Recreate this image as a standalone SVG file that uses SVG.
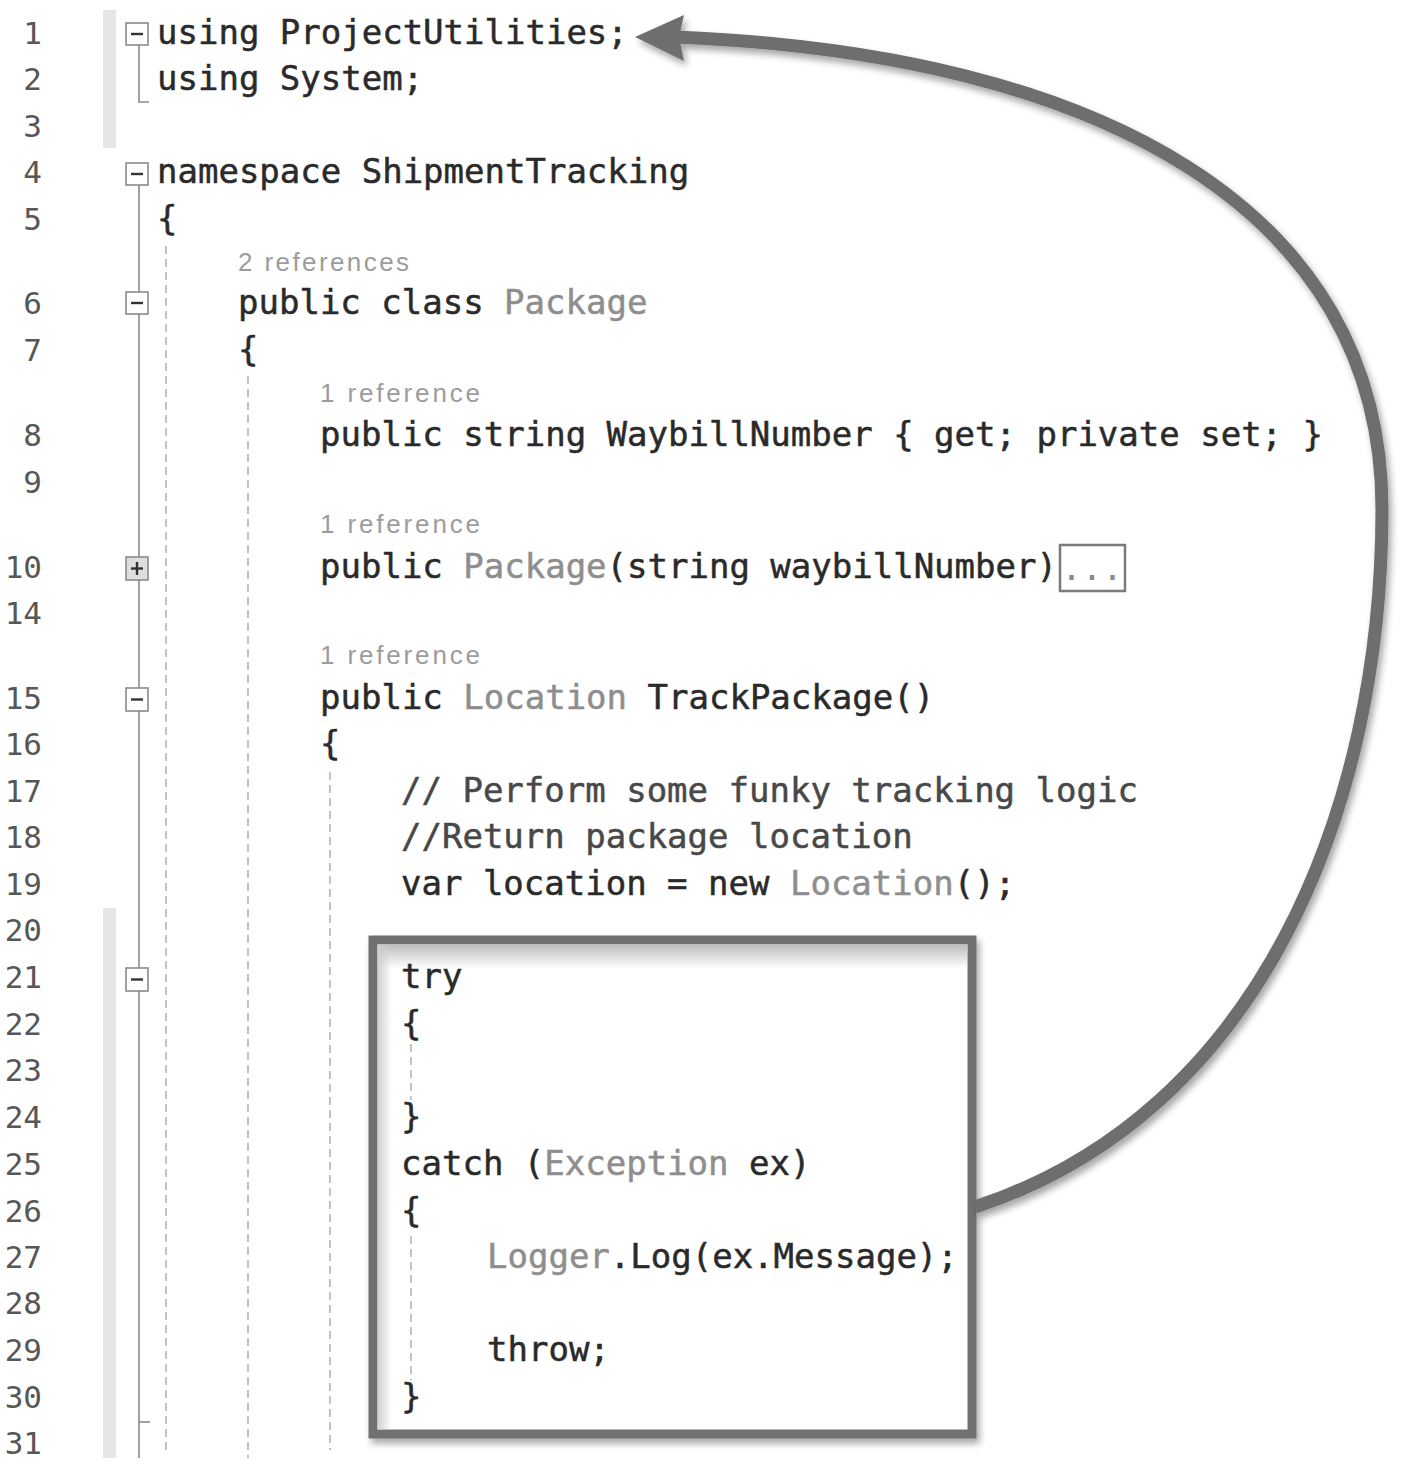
<svg xmlns="http://www.w3.org/2000/svg" width="1418" height="1468" viewBox="0 0 1418 1468">
<style>
.code{font-family:"DejaVu Sans Mono","Liberation Mono",monospace;font-size:34px;fill:#2a2a2a;stroke:#2a2a2a;stroke-width:0.5}
.num{font-family:"DejaVu Sans Mono","Liberation Mono",monospace;font-size:31px;fill:#575757;text-anchor:end}
.lens{font-family:"Liberation Sans","DejaVu Sans",sans-serif;font-size:26px;fill:#9c9c9c}
.type{fill:#8e8e8e;stroke:#8e8e8e}
.cmt{fill:#484848;stroke:#484848}
.guide{stroke:#b4b4b4;stroke-width:1.6;stroke-dasharray:8 5;fill:none}
.outl{stroke:#8a8a8a;stroke-width:1.6;fill:none}
.obox{fill:#fff;stroke:#8a8a8a;stroke-width:1.6}
.sign{stroke:#333;stroke-width:2.4}
</style>
<defs>
<filter id="sh" x="-10%" y="-10%" width="130%" height="130%">
<feDropShadow dx="3" dy="5" stdDeviation="3.5" flood-color="#000" flood-opacity="0.35"/>
</filter>
<linearGradient id="gTop" x1="0" y1="0" x2="0" y2="1">
<stop offset="0" stop-color="#bdbdbd"/>
<stop offset="1" stop-color="#bdbdbd" stop-opacity="0"/>
</linearGradient>
<linearGradient id="gLeft" x1="0" y1="0" x2="1" y2="0">
<stop offset="0" stop-color="#cfcfcf"/>
<stop offset="1" stop-color="#cfcfcf" stop-opacity="0"/>
</linearGradient>
</defs>
<rect width="1418" height="1468" fill="#fff"/>

<g id="margin">
<rect x="103" y="10" width="13" height="138" fill="#e6e6e6"/>
<rect x="103" y="908" width="13" height="550" fill="#e6e6e6"/>
</g>

<g id="line-numbers">
<text class="num" x="42" y="44">1</text>
<text class="num" x="42" y="90">2</text>
<text class="num" x="42" y="137">3</text>
<text class="num" x="42" y="183">4</text>
<text class="num" x="42" y="230">5</text>
<text class="num" x="42" y="314">6</text>
<text class="num" x="42" y="361">7</text>
<text class="num" x="42" y="446">8</text>
<text class="num" x="42" y="493">9</text>
<text class="num" x="42" y="578">10</text>
<text class="num" x="42" y="624">14</text>
<text class="num" x="42" y="709">15</text>
<text class="num" x="42" y="755">16</text>
<text class="num" x="42" y="802">17</text>
<text class="num" x="42" y="848">18</text>
<text class="num" x="42" y="895">19</text>
<text class="num" x="42" y="941">20</text>
<text class="num" x="42" y="988">21</text>
<text class="num" x="42" y="1035">22</text>
<text class="num" x="42" y="1081">23</text>
<text class="num" x="42" y="1128">24</text>
<text class="num" x="42" y="1175">25</text>
<text class="num" x="42" y="1222">26</text>
<text class="num" x="42" y="1268">27</text>
<text class="num" x="42" y="1314">28</text>
<text class="num" x="42" y="1361">29</text>
<text class="num" x="42" y="1408">30</text>
<text class="num" x="42" y="1454">31</text>
</g>

<g id="outlining">
<polyline class="outl" points="139,45 139,102 149,102"/>
<line class="outl" x1="139" y1="185" x2="139" y2="1458"/>
<line class="outl" x1="139" y1="1422" x2="150" y2="1422"/>
<rect class="obox" x="126" y="23" width="22" height="22"/>
<line class="sign" x1="131" y1="34" x2="143" y2="34"/>
<rect class="obox" x="126" y="163" width="22" height="22"/>
<line class="sign" x1="131" y1="174" x2="143" y2="174"/>
<rect class="obox" x="126" y="292" width="22" height="22"/>
<line class="sign" x1="131" y1="303" x2="143" y2="303"/>
<rect x="126" y="557" width="22" height="23" fill="#dedede" stroke="#8a8a8a" stroke-width="1.6"/>
<line class="sign" x1="131" y1="568.5" x2="143" y2="568.5"/>
<line class="sign" x1="137" y1="562" x2="137" y2="575"/>
<rect class="obox" x="126" y="688" width="22" height="23"/>
<line class="sign" x1="131" y1="699.5" x2="143" y2="699.5"/>
<rect class="obox" x="126" y="968" width="22" height="23"/>
<line class="sign" x1="131" y1="979.5" x2="143" y2="979.5"/>
</g>

<g id="indent-guides">
<line class="guide" x1="166" y1="246" x2="166" y2="1450"/>
<line class="guide" x1="248" y1="376" x2="248" y2="1458"/>
<line class="guide" x1="330" y1="772" x2="330" y2="1450"/>
</g>

<g id="highlight-box">
<rect x="373" y="940" width="599" height="494" fill="#fff" stroke="#6f6f6f" stroke-width="9" filter="url(#sh)"/>
<rect x="377.5" y="944.5" width="590" height="24" fill="url(#gTop)"/>
<rect x="377.5" y="944.5" width="14" height="485" fill="url(#gLeft)"/>
<line class="guide" x1="411" y1="1044" x2="411" y2="1100"/>
<line class="guide" x1="411" y1="1236" x2="411" y2="1380"/>
</g>

<g id="code">
<text class="code" x="157" y="44">using ProjectUtilities;</text>
<text class="code" x="157" y="90">using System;</text>
<text class="code" x="157" y="183">namespace ShipmentTracking</text>
<text class="code" x="157" y="230">{</text>
<text class="lens" x="238" y="271" textLength="171" lengthAdjust="spacing">2 references</text>
<text class="code" x="238" y="314">public class <tspan class="type">Package</tspan></text>
<text class="code" x="238" y="361">{</text>
<text class="lens" x="320" y="402" textLength="160" lengthAdjust="spacing">1 reference</text>
<text class="code" x="320" y="446">public string WaybillNumber { get; private set; }</text>
<text class="lens" x="320" y="533" textLength="160" lengthAdjust="spacing">1 reference</text>
<text class="code" x="320" y="578">public <tspan class="type">Package</tspan>(string waybillNumber)</text>
<rect x="1060" y="545" width="65" height="46" fill="none" stroke="#7a7a7a" stroke-width="2.5"/>
<text class="code" x="1092" y="580" text-anchor="middle" style="fill:#8a8a8a;stroke:none">...</text>
<text class="lens" x="320" y="664" textLength="160" lengthAdjust="spacing">1 reference</text>
<text class="code" x="320" y="709">public <tspan class="type">Location</tspan> TrackPackage()</text>
<text class="code" x="320" y="755">{</text>
<text class="code cmt" x="401" y="802">// Perform some funky tracking logic</text>
<text class="code cmt" x="401" y="848">//Return package location</text>
<text class="code" x="401" y="895">var location = new <tspan class="type">Location</tspan>();</text>
<text class="code" x="401" y="988">try</text>
<text class="code" x="401" y="1035">{</text>
<text class="code" x="401" y="1128">}</text>
<text class="code" x="401" y="1175">catch (<tspan class="type">Exception</tspan> ex)</text>
<text class="code" x="401" y="1222">{</text>
<text class="code" x="487" y="1268"><tspan class="type">Logger</tspan>.Log(ex.Message);</text>
<text class="code" x="487" y="1361">throw;</text>
<text class="code" x="401" y="1408">}</text>
</g>

<g id="connectors" filter="url(#sh)">
<path d="M 975 1207 C 1260 1114, 1382 809, 1382 509 C 1382 209, 1099 54, 676 37" fill="none" stroke="#6e6e6e" stroke-width="13"/>
<polygon points="635,37 684,15 679,37 684,61" fill="#6e6e6e"/>
</g>
</svg>
